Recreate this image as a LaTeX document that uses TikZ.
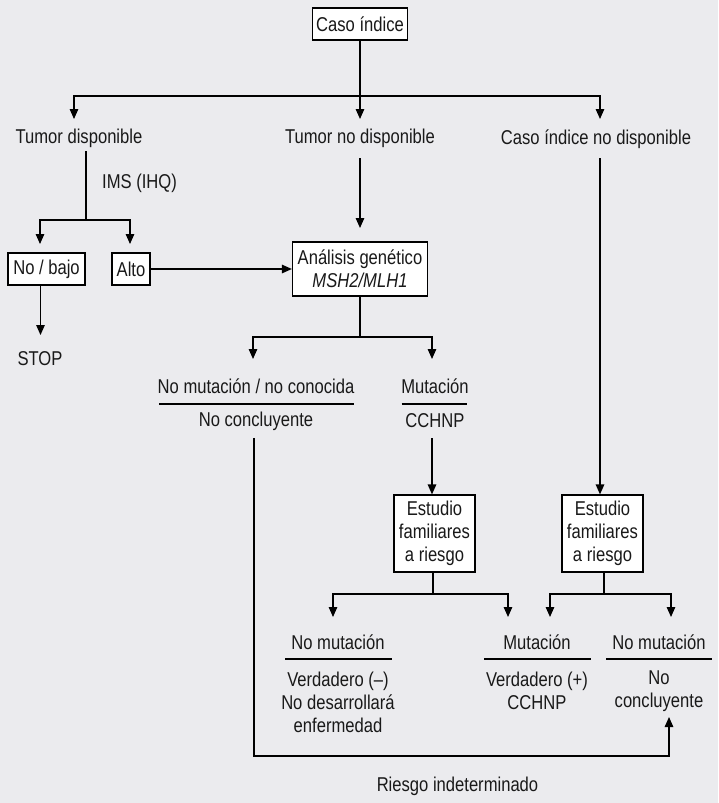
\documentclass[tikz,border=0pt]{standalone}
\usepackage{fontspec}
\setmainfont{Liberation Sans}[FakeStretch=0.83]
\usetikzlibrary{arrows.meta}
\definecolor{bg}{RGB}{235,235,238}
\definecolor{ink}{RGB}{25,25,25}
\begin{document}
\begin{tikzpicture}[x=1pt,y=-1pt,
  font=\fontsize{20}{23}\selectfont,
  line width=1.3pt,
  arr/.style={-{Triangle[length=10pt,width=8.5pt]}},
  box/.style={draw, fill=white, inner sep=0pt, align=center, line width=1.2pt, text=ink},
  txt/.style={inner sep=0pt, align=center, text=ink},
  sep/.style={line width=1.1pt},
]
\fill[bg] (0,0) rectangle (718,803);
\useasboundingbox (0,0) rectangle (718,803);

% nodes
\node[box, minimum width=95pt, minimum height=32pt] (caso) at (360,24) {Caso índice};
\node[txt] (tumd) at (79,138) {Tumor disponible};
\node[txt] (tumnd) at (360,138) {Tumor no disponible};
\node[txt] (cind) at (596,139) {Caso índice no disponible};
\node[txt] (ims) at (139.5,183) {IMS (IHQ)};
\node[box, minimum width=77pt, minimum height=32pt] (nobajo) at (46.5,269) {No / bajo};
\node[box, minimum width=38pt, minimum height=32pt] (alto) at (131,269) {Alto};
\node[box, minimum width=135pt, minimum height=54pt] (anal) at (360,269) {Análisis genético\\\textit{MSH2/MLH1}};
\node[txt] (stop) at (40,359) {STOP};
\node[txt] (nmnc) at (256,386) {No mutación / no conocida};
\node[txt] (ncon) at (256,421) {No concluyente};
\node[txt] (mut1) at (435,386) {Mutación};
\node[txt] (cch1) at (435,421) {CCHNP};
\node[box, minimum width=81pt, minimum height=77pt] (est1) at (434.5,533.5) {Estudio\\familiares\\a riesgo};
\node[box, minimum width=81pt, minimum height=77pt] (est2) at (602.5,533.5) {Estudio\\familiares\\a riesgo};
\node[txt] (nm2) at (338,642) {No mutación};
\node[txt] (vneg) at (338,702) {Verdadero (–)\\No desarrollará\\enfermedad};
\node[txt] (mut2) at (537,642) {Mutación};
\node[txt] (vpos) at (537,691) {Verdadero (+)\\CCHNP};
\node[txt] (nm3) at (659,642) {No mutación};
\node[txt] (ncon2) at (659,691) {No\\concluyente};
\node[txt] (riesgo) at (457.5,786) {Riesgo indeterminado};

% separators
\draw[sep] (159,404) -- (354,404);
\draw[sep] (401.5,404) -- (466.5,404);
\draw[sep] (285,659) -- (392,659);
\draw[sep] (484,659) -- (591,659);
\draw[sep] (606,659) -- (712,659);

% connectors
\coordinate (j1) at (360,96);
\coordinate (t1) at (74,119);
\coordinate (t2) at (360,119);
\coordinate (t3) at (600,119);
\draw (caso.south) -- (j1);
\draw[arr] (j1) -- (t2);
\draw[arr] (j1) -| (t1);
\draw[arr] (j1) -| (t3);

\coordinate (j2) at (86,220);
\draw (j2 |- 0,151) -- (j2);
\draw[arr] (j2) -| (40,244);
\draw[arr] (j2) -| (130,244);
\draw[arr] (nobajo.south -| 40.5,0) -- (40.5,335);
\draw[arr] (alto.east) -- (anal.west);
\draw[arr] (tumnd.south |- 0,158) -- (tumnd.south |- 0,228);

\coordinate (j3) at (360,337);
\draw (anal.south) -- (j3);
\draw[arr] (j3) -| (253,359);
\draw[arr] (j3) -| (432,359);

\draw[arr] (432,438) -- (est1.north -| 432,0);
\draw[arr] (600,158) -- (est2.north -| 600,0);

\coordinate (j4) at (433,594);
\draw (est1.south -| j4) -- (j4);
\draw[arr] (j4) -| (333,617);
\draw[arr] (j4) -| (508,617);
\coordinate (j5) at (604,594);
\draw (est2.south -| j5) -- (j5);
\draw[arr] (j5) -| (550,617);
\draw[arr] (j5) -| (671,617);

\coordinate (j6) at (254,756);
\coordinate (t6) at (669,717);
\draw[arr] (ncon.south -| j6) ++(0,7) -- (j6) -| (t6);
\end{tikzpicture}
\end{document}
